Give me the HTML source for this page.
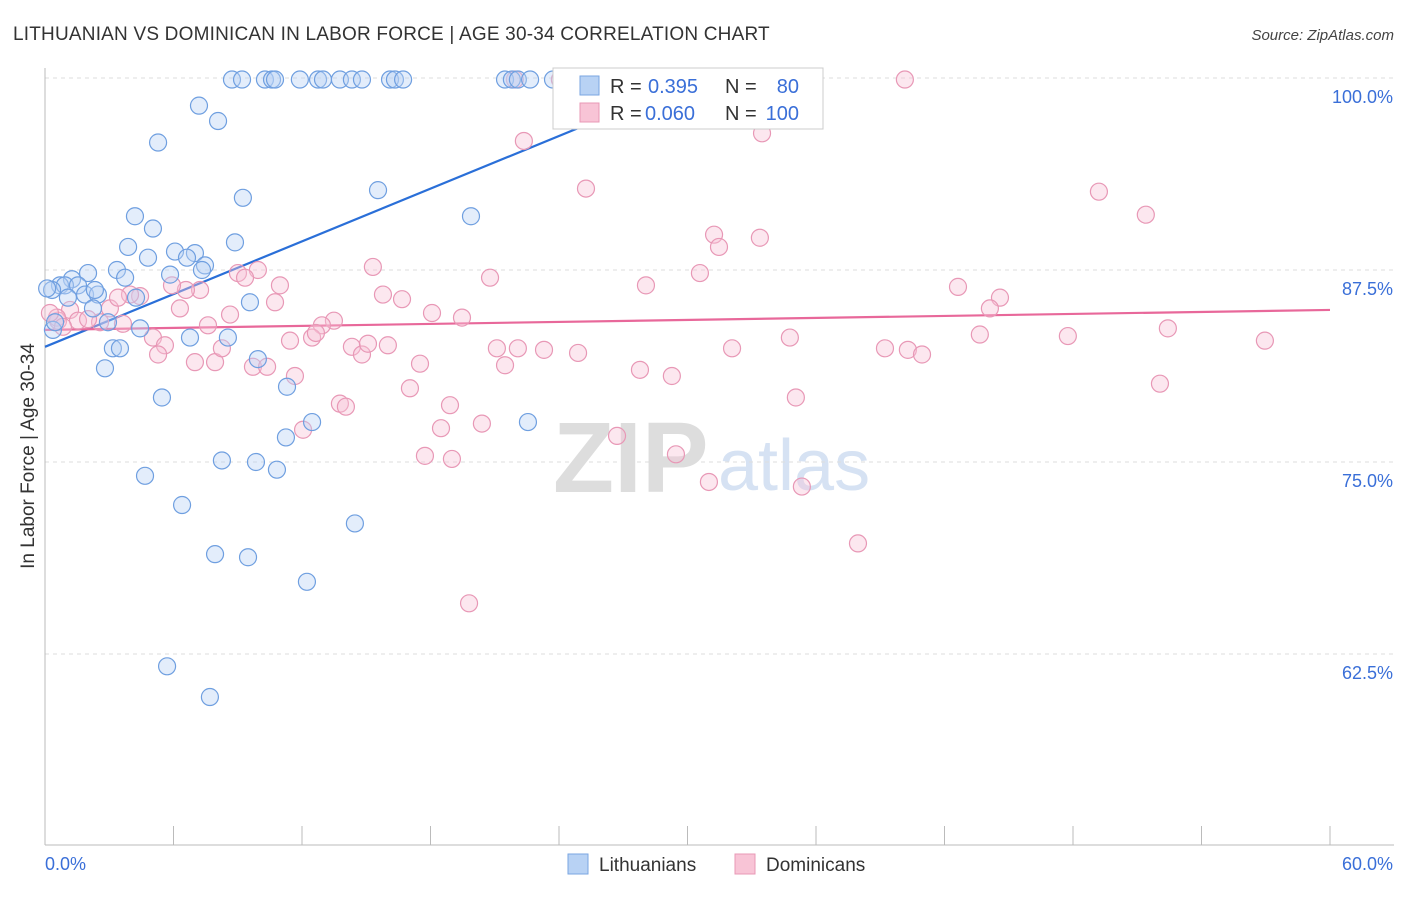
<!DOCTYPE html>
<html><head><meta charset="utf-8"><style>
body{margin:0;background:#fff;font-family:"Liberation Sans",sans-serif}
svg text{font-family:"Liberation Sans",sans-serif}
</style></head><body>
<svg id="chart" width="1406" height="892" xmlns="http://www.w3.org/2000/svg">
<text x="13" y="40" font-size="19" fill="#333" letter-spacing="0.2">LITHUANIAN VS DOMINICAN IN LABOR FORCE | AGE 30-34 CORRELATION CHART</text>
<text x="1394" y="40" font-size="15" fill="#444" text-anchor="end" font-style="italic">Source: ZipAtlas.com</text>
<g>
<text x="553" y="492" font-size="100" fill="#ddd" font-family="Liberation Serif" font-weight="bold">ZIP</text>
<text x="718" y="490" font-size="72" fill="#d6e2f3">atlas</text>
</g>
<g id="grid"></g><g id="axes"></g><g id="lines"></g><g id="points"></g>
<text transform="translate(34,456) rotate(-90)" font-size="19" fill="#333" text-anchor="middle">In Labor Force | Age 30-34</text>
<g>
<rect x="553" y="68" width="270" height="61" fill="#fff" stroke="#ccc"/>
<rect x="580" y="76" width="19" height="19" fill="#b8d2f4" stroke="#7aa6e2"/>
<rect x="580" y="103" width="19" height="19" fill="#f8c4d6" stroke="#e898b6"/>
<text x="610" y="93" font-size="20" fill="#333">R =</text>
<text x="648" y="93" font-size="20" fill="#3a6fd8">0.395</text>
<text x="725" y="93" font-size="20" fill="#333">N =</text>
<text x="799" y="93" font-size="20" fill="#3a6fd8" text-anchor="end">80</text>
<text x="610" y="120" font-size="20" fill="#333">R =</text>
<text x="645" y="120" font-size="20" fill="#3a6fd8">0.060</text>
<text x="725" y="120" font-size="20" fill="#333">N =</text>
<text x="799" y="120" font-size="20" fill="#3a6fd8" text-anchor="end">100</text>
</g>
<g>
<rect x="568" y="854" width="20" height="20" fill="#b8d2f4" stroke="#7aa6e2"/>
<text x="599" y="871" font-size="19" fill="#333">Lithuanians</text>
<rect x="735" y="854" width="20" height="20" fill="#f8c4d6" stroke="#e898b6"/>
<text x="766" y="871" font-size="19" fill="#333">Dominicans</text>
</g>
</svg>
<script>
const yTicks=[100,87.5,75,62.5];
const yTickLabels=["100.0%","87.5%","75.0%","62.5%"];
const xTicks=[0,6,12,18,24,30,36,42,48,54,60];
const xEndLabels=["0.0%","60.0%"];
const blueX=[8.73,9.2,10.27,10.6,10.74,11.9,12.75,12.98,13.77,14.33,14.8,16.11,16.34,16.72,21.48,21.8,22.08,22.65,23.72,35.02,7.19,8.08,5.28,9.24,15.55,19.89,4.2,5.04,8.87,3.88,6.07,7.0,4.81,6.63,3.36,5.84,7.47,7.33,2.01,1.26,3.74,0.7,0.93,1.54,0.33,1.07,1.87,2.47,2.33,4.25,9.57,2.24,2.94,4.44,0.37,6.77,8.54,3.17,3.5,9.94,2.8,11.3,5.46,12.47,22.55,11.25,8.26,9.85,10.83,4.67,6.4,14.47,7.94,9.48,12.23,5.7,7.7,0.47,0.1];
const blueY=[99.9,99.9,99.9,99.9,99.9,99.9,99.9,99.9,99.9,99.9,99.9,99.9,99.9,99.9,99.9,99.9,99.9,99.9,99.9,99.9,98.2,97.2,95.8,92.2,92.7,91.0,91.0,90.2,89.3,89.0,88.7,88.6,88.3,88.3,87.5,87.2,87.8,87.5,87.3,86.9,87.0,86.5,86.5,86.5,86.2,85.7,85.9,85.9,86.2,85.7,85.4,85.0,84.1,83.7,83.6,83.1,83.1,82.4,82.4,81.7,81.1,79.9,79.2,77.6,77.6,76.6,75.1,75.0,74.5,74.1,72.2,71.0,69.0,68.8,67.2,61.7,59.7,84.1,86.3];
const pinkX=[40.15,28.34,24.04,21.94,22.36,33.48,25.26,49.21,51.4,31.24,33.38,31.47,30.58,15.31,20.78,28.06,42.63,44.59,44.12,15.78,16.67,10.97,9.94,9.01,9.34,7.24,6.58,5.93,4.44,3.97,3.03,6.3,10.74,18.07,19.47,13.49,12.93,8.64,7.61,1.17,0.61,1.54,2.57,3.64,5.04,5.6,5.28,7.0,7.94,8.26,9.71,10.37,11.67,11.44,12.47,12.65,14.33,14.8,15.08,16.01,21.1,22.08,23.3,24.89,21.48,17.51,17.04,27.78,29.27,32.08,34.78,39.22,40.29,40.95,43.65,47.76,52.43,56.96,52.06,35.06,13.77,14.05,18.91,18.49,20.4,12.05,26.71,17.74,19.0,29.46,31.0,35.34,37.96,19.8,0.56,0.23,0.84,2.01,3.41];
const pinkY=[99.9,99.9,99.9,99.9,95.9,96.4,92.8,92.6,91.1,89.8,89.6,89.0,87.3,87.7,87.0,86.5,86.4,85.7,85.0,85.9,85.6,86.5,87.5,87.3,87.0,86.2,86.2,86.5,85.8,85.9,85.0,85.0,85.4,84.7,84.4,84.2,83.9,84.6,83.9,84.9,84.2,84.2,84.1,84.0,83.1,82.6,82.0,81.5,81.5,82.4,81.2,81.2,80.6,82.9,83.1,83.4,82.5,82.0,82.7,82.6,82.4,82.4,82.3,82.1,81.3,81.4,79.8,81.0,80.6,82.4,83.1,82.4,82.3,82.0,83.3,83.2,83.7,82.9,80.1,79.2,78.8,78.6,78.7,77.2,77.5,77.1,76.7,75.4,75.2,75.5,73.7,73.4,69.7,65.8,84.4,84.7,83.8,84.3,85.7];
const blueTrendX=[0,30.6];
const blueTrendY=[82.5,100];
const pinkTrendX=[0,60];
const pinkTrendY=[83.6,84.9];

const NS="http://www.w3.org/2000/svg";
const xS=v=>45+v/60*1285;
const yS=v=>78+(100-v)/12.5*192;
function mk(tag,attrs,parent){const e=document.createElementNS(NS,tag);for(const k in attrs)e.setAttribute(k,attrs[k]);document.getElementById(parent).appendChild(e);return e;}

yTicks.forEach((t,i)=>{
 const g=mk('line',{x1:45,x2:1394,y1:yS(t),y2:yS(t),stroke:'#ddd','stroke-dasharray':'4,4'},'grid');
 
 
 const l=mk('text',{x:1393,y:yS(t)+25,'font-size':18,fill:'#3a6fd8','text-anchor':'end'},'grid');
 l.textContent=yTickLabels[i];
 
 
});
const ax=mk('line',{x1:45,x2:45,y1:68,y2:845,stroke:'#bbb'},'axes');


const bx=mk('line',{x1:45,x2:1394,y1:845,y2:845,stroke:'#bbb'},'axes');


xTicks.forEach(t=>{
 const tk=mk('line',{x1:xS(t),x2:xS(t),y1:826,y2:845,stroke:'#bbb'},'axes');
 
 
});
const xl0=mk('text',{x:45,y:870,'font-size':18,fill:'#3a6fd8'},'axes');xl0.textContent=xEndLabels[0];


const xl1=mk('text',{x:1393,y:870,'font-size':18,fill:'#3a6fd8','text-anchor':'end'},'axes');xl1.textContent=xEndLabels[1];



function pts(X,Y,fill,stroke,name){X.forEach((x,i)=>{
 const c=mk('circle',{cx:xS(x),cy:yS(Y[i]),r:8.5,fill:fill,'fill-opacity':0.4,stroke:stroke,'stroke-width':1.2},'points');
 
 
});}
pts(pinkX,pinkY,'#f8c4d6','#e898b6','dominican-point');
pts(blueX,blueY,'#b8d2f4','#6f9fe0','lithuanian-point');
const bl=mk('line',{x1:xS(blueTrendX[0]),y1:yS(blueTrendY[0]),x2:xS(blueTrendX[1]),y2:yS(blueTrendY[1]),stroke:'#2a6fd8','stroke-width':2.2},'lines');


const pl=mk('line',{x1:xS(pinkTrendX[0]),y1:yS(pinkTrendY[0]),x2:xS(pinkTrendX[1]),y2:yS(pinkTrendY[1]),stroke:'#e8689a','stroke-width':2.2},'lines');


</script>
</body></html>
